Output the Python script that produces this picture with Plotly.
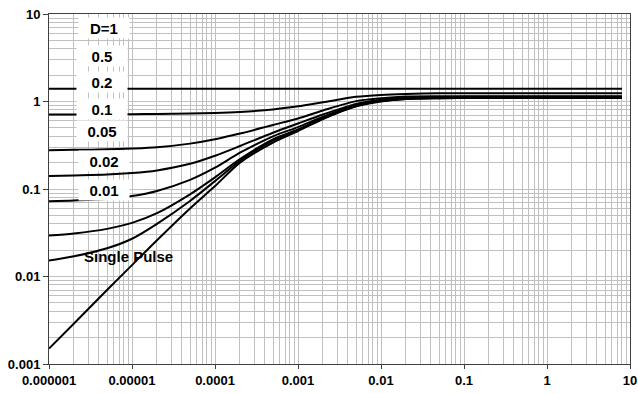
import plotly.graph_objects as go

# time (s)
t = [1e-6, 2e-6, 5e-6, 1e-5, 2e-5, 5e-5, 1e-4, 2e-4, 5e-4, 1e-3, 2e-3, 5e-3,
     1e-2, 2e-2, 5e-2, 0.1, 1, 8]

d_1 = [1.4] * len(t)
d_05 = [0.71, 0.711, 0.713, 0.716, 0.72, 0.73, 0.74, 0.76, 0.81, 0.88, 0.98, 1.13,
        1.19, 1.22, 1.24, 1.24, 1.24, 1.24]
d_02 = [0.278, 0.28, 0.284, 0.29, 0.30, 0.33, 0.37, 0.43, 0.54, 0.64, 0.79, 1.01,
        1.09, 1.14, 1.15, 1.15, 1.15, 1.15]
d_01 = [0.141, 0.143, 0.146, 0.152, 0.163, 0.194, 0.24, 0.31, 0.44, 0.56, 0.71, 0.94,
        1.05, 1.10, 1.12, 1.13, 1.13, 1.13]
d_005 = [0.0726, 0.074, 0.077, 0.083, 0.095, 0.127, 0.175, 0.26, 0.40, 0.51, 0.67, 0.91,
         1.02, 1.09, 1.11, 1.12, 1.12, 1.12]
d_002 = [0.0294, 0.031, 0.035, 0.041, 0.053, 0.087, 0.136, 0.22, 0.37, 0.48, 0.65, 0.89,
         1.01, 1.08, 1.10, 1.10, 1.10, 1.10]
d_001 = [0.0152, 0.017, 0.021, 0.027, 0.040, 0.073, 0.123, 0.21, 0.36, 0.47, 0.64, 0.89,
         1.01, 1.07, 1.09, 1.10, 1.10, 1.10]
single = [0.0015, 0.0029, 0.0070, 0.0135, 0.026, 0.060, 0.108, 0.20, 0.34, 0.46, 0.63, 0.88,
          1.0, 1.07, 1.09, 1.10, 1.10, 1.10]

series = [d_1, d_05, d_02, d_01, d_005, d_002, d_001, single]

x_tickvals = [1e-6, 1e-5, 1e-4, 1e-3, 1e-2, 0.1, 1, 10]
x_ticktext = ["0.000001", "0.00001", "0.0001", "0.001", "0.01", "0.1", "1", "10"]
y_tickvals = [0.001, 0.01, 0.1, 1, 10]
y_ticktext = ["0.001", "0.01", "0.1", "1", "10"]

# labels: (text, log10 x, log10 y, boxed)
labels = [("D=1", -5.34, 0.84, True), ("0.5", -5.365, 0.52, True),
          ("0.2", -5.365, 0.223, True), ("0.1", -5.365, -0.086, True),
          ("0.05", -5.365, -0.337, True), ("0.02", -5.34, -0.68, True),
          ("0.01", -5.34, -1.011, True), ("Single Pulse", -5.042, -1.777, False)]

fig = go.Figure()
for s in series:
    fig.add_trace(go.Scatter(x=t, y=s, mode="lines", showlegend=False,
                             line=dict(color="black", width=2, shape="spline", smoothing=0.8)))

for text, lx, ly, boxed in labels:
    fig.add_annotation(x=lx, y=ly, xref="x", yref="y", text=text, showarrow=False,
                       font=dict(family="Liberation Sans", size=15, color="black", weight="bold"),
                       bgcolor="white" if boxed else "rgba(0,0,0,0)",
                       width=50 if boxed else None, height=20 if boxed else None,
                       borderpad=0)

tickfont = dict(family="Liberation Sans", size=13, color="black", weight="bold")
grid = "#c0c0c0"
fig.update_xaxes(type="log", range=[-6, 1], tickvals=x_tickvals, ticktext=x_ticktext,
                 showgrid=True, gridcolor=grid, gridwidth=1, automargin=False,
                 minor=dict(dtick="D1", showgrid=True, gridcolor=grid, gridwidth=1, ticks=""),
                 showline=True, linecolor="#404040", linewidth=1, mirror=True,
                 ticks="outside", ticklen=4, tickcolor="#404040", tickfont=tickfont,
                 zeroline=False)
fig.update_yaxes(type="log", range=[-3, 1], tickvals=y_tickvals, ticktext=y_ticktext,
                 showgrid=True, gridcolor=grid, gridwidth=1, automargin=False,
                 minor=dict(dtick="D1", showgrid=True, gridcolor=grid, gridwidth=1, ticks=""),
                 showline=True, linecolor="#404040", linewidth=1, mirror=True,
                 ticks="outside", ticklen=5, tickcolor="#404040", tickfont=tickfont,
                 zeroline=False)
fig.update_layout(width=638, height=394, margin=dict(l=49, r=8, t=14, b=30, autoexpand=False),
                  plot_bgcolor="white", paper_bgcolor="white")
fig.write_html("out.html", config={"displayModeBar": False},
               post_script="document.body.style.margin='0';")
